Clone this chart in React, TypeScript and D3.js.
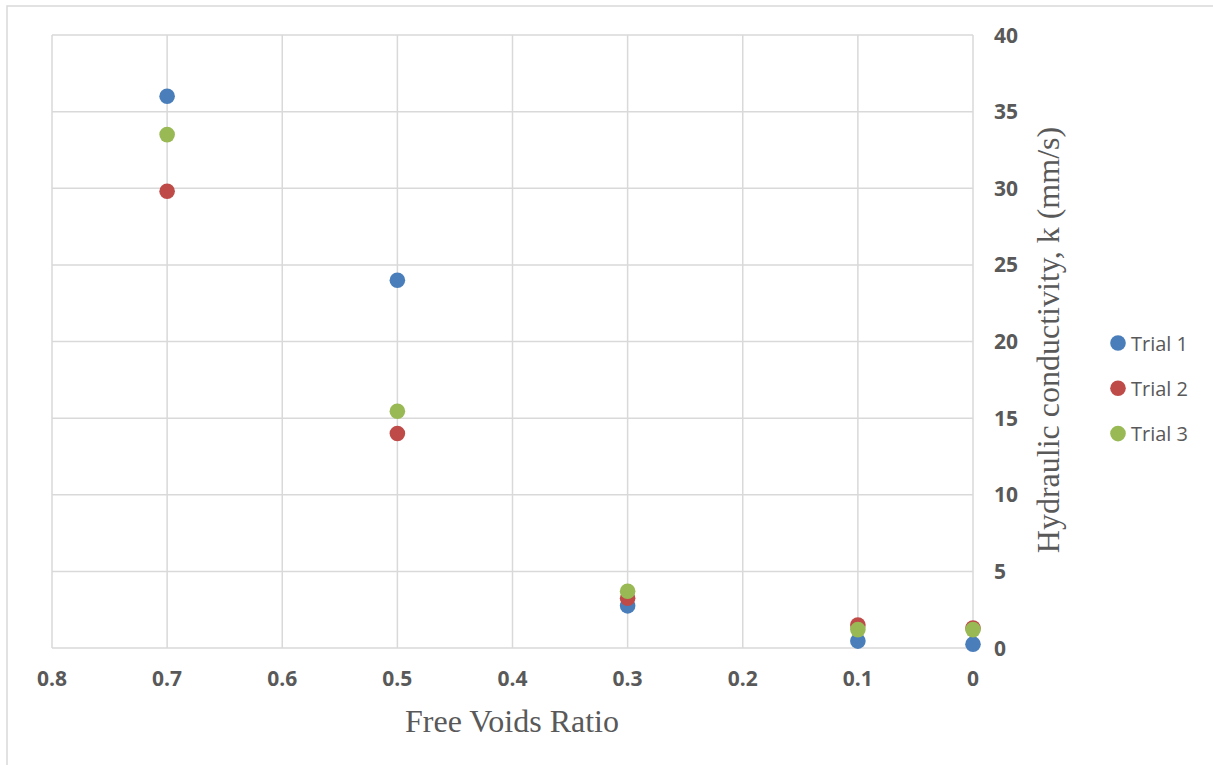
import React from "react";
import * as d3 from "d3";

const xTicks = [0.8, 0.7, 0.6, 0.5, 0.4, 0.3, 0.2, 0.1, 0];
const yTicks = [0, 5, 10, 15, 20, 25, 30, 35, 40];
const voids = [0.7, 0.5, 0.3, 0.1, 0];
const trial1 = [36.0, 24.0, 2.75, 0.45, 0.25];
const trial2 = [29.8, 14.0, 3.25, 1.5, 1.3];
const trial3 = [33.5, 15.45, 3.7, 1.2, 1.2];
const seriesNames = ["Trial 1", "Trial 2", "Trial 3"];
const seriesColors = ["#4a7ebb", "#be4b48", "#98b954"];

export default function App() {
  const W = 1213, H = 765;
  const x = d3.scaleLinear().domain([0.8, 0]).range([52, 973]);
  const y = d3.scaleLinear().domain([0, 40]).range([648, 35]);
  const series = [trial1, trial2, trial3];
  const grid = "#d9d9d9";
  const txt = "#595959";
  return (
    <svg width={W} height={H} style={{ position: "absolute", left: 0, top: 0, background: "#fff" }}>
      <rect x={7} y={6} width={1230} height={800} fill="#fff" stroke={grid} strokeWidth={1.5} />
      {xTicks.map((t) => (
        <line key={"gx" + t} x1={x(t)} x2={x(t)} y1={y(40)} y2={y(0)} stroke={grid} strokeWidth={1.5} />
      ))}
      {yTicks.map((t) => (
        <line key={"gy" + t} x1={x(0.8)} x2={x(0)} y1={y(t)} y2={y(t)} stroke={grid} strokeWidth={1.5} />
      ))}
      {xTicks.map((t) => (
        <text key={"tx" + t} x={x(t)} y={686} textAnchor="middle" fontFamily="'Open Sans', sans-serif" fontWeight="bold" fontSize={21} fill={txt}>
          {d3.format("")(t)}
        </text>
      ))}
      {yTicks.map((t) => (
        <text key={"ty" + t} x={994} y={y(t) + 7.5} textAnchor="start" fontFamily="'Open Sans', sans-serif" fontWeight="bold" fontSize={21} fill={txt}>
          {t}
        </text>
      ))}
      {series.map((s, i) =>
        s.map((v, j) => (
          <circle key={"p" + i + "-" + j} cx={x(voids[j])} cy={y(v)} r={7.8} fill={seriesColors[i]} />
        ))
      )}
      <text x={512} y={732} textAnchor="middle" fontFamily="'Liberation Serif', 'Times New Roman', serif" fontSize={32} fill={txt}>
        Free Voids Ratio
      </text>
      <text transform={`translate(1059,340) rotate(-90)`} textAnchor="middle" fontFamily="'Liberation Serif', 'Times New Roman', serif" fontSize={32} fill={txt}>
        Hydraulic conductivity, k (mm/s)
      </text>
      {seriesNames.map((n, i) => (
        <g key={n} transform={`translate(0,${343 + i * 45.3})`}>
          <circle cx={1118} cy={0} r={7.8} fill={seriesColors[i]} />
          <text x={1131} y={7.5} fontFamily="'Open Sans', sans-serif" fontSize={20} fill={txt}>
            {n}
          </text>
        </g>
      ))}
    </svg>
  );
}
